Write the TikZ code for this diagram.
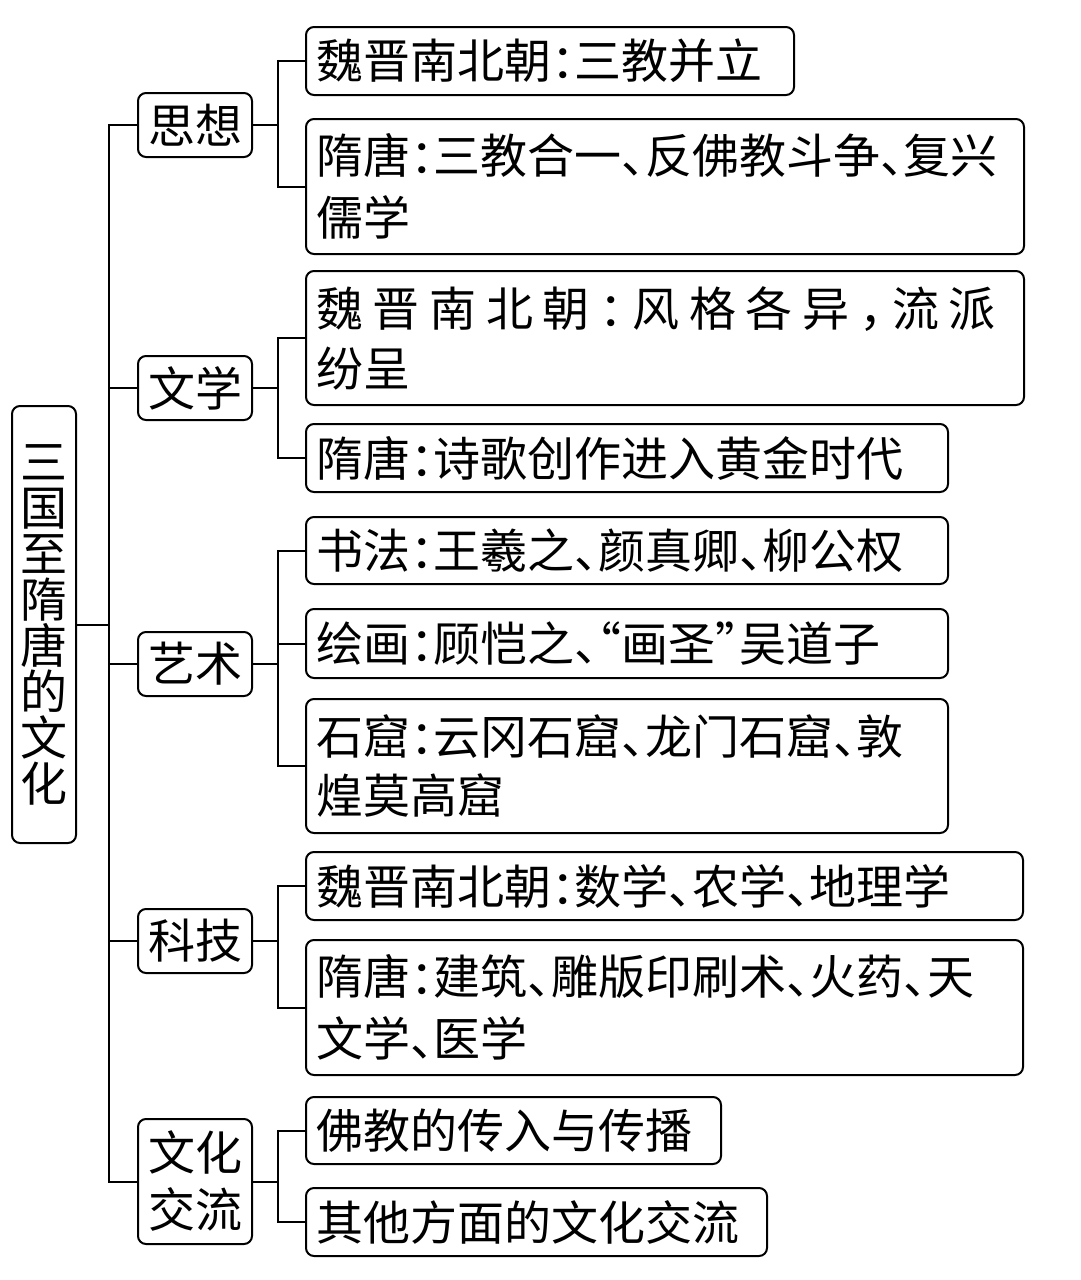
\documentclass[tikz,border=0pt]{standalone}
\usepackage{fontspec}
\setmainfont{Noto Sans CJK SC}[RawFeature=+halt]
\usepackage{tikz}

\begin{document}
\begin{tikzpicture}[x=1pt,y=-1pt,
    box/.style={draw,line width=2pt,rounded corners=8pt,inner xsep=10pt,inner ysep=0pt,
        font=\fontsize{47}{62}\selectfont},
    leaf/.style={box,anchor=north west,align=left},
    topic/.style={box,anchor=north west,align=center,minimum width=111pt,minimum height=64pt},
    link/.style={line width=2pt}]
        \useasboundingbox(0,0)rectangle(1080,1280);
        % 根节点
        \node[box,anchor=north west,align=center,minimum width=64pt,minimum height=437pt,
            inner xsep=0pt,font=\fontsize{47}{46}\selectfont](root)at(11,405)
            {三\\国\\至\\隋\\唐\\的\\文\\化};
        % 一级节点
        \node[topic](sx)at(137,92){思想};
        \node[topic](wx)at(137,355){文学};
        \node[topic](ys)at(137,631){艺术};
        \node[topic](kj)at(137,908){科技};
        \node[topic,minimum height=125pt,font=\fontsize{47}{57}\selectfont](jl)at(137,1118){文化\\交流};
        % 二级节点
        \node[leaf,text width=468pt,minimum height=68pt](sx1)at(305,26){魏晋南北朝：三教并立};
        \node[leaf,text width=698pt,minimum height=135pt](sx2)at(305,118){隋唐：三教合一、反佛教斗争、复兴\\儒学};
        \node[leaf,text width=698pt,minimum height=134pt,font=\fontsize{47}{60}\selectfont](wx1)at(305,270)
            {\makebox[680pt][l]{魏\hfill 晋\hfill 南\hfill 北\hfill 朝\hfill ：\hfill 风\hfill 格\hfill 各\hfill 异\hfill ，\hfill 流\hfill 派}\\纷呈};
        \node[leaf,text width=622pt,minimum height=68pt](wx2)at(305,423){隋唐：诗歌创作进入黄金时代};
        \node[leaf,text width=622pt,minimum height=67pt](ys1)at(305,516){书法：王羲之、颜真卿、柳公权};
        \node[leaf,text width=622pt,minimum height=69pt](ys2)at(305,608){绘画：顾恺之、“画圣”吴道子};
        \node[leaf,text width=622pt,minimum height=134pt,font=\fontsize{47}{59}\selectfont](ys3)at(305,698)
            {石窟：云冈石窟、龙门石窟、敦\\煌莫高窟};
        \node[leaf,text width=697pt,minimum height=68pt](kj1)at(305,851){魏晋南北朝：数学、农学、地理学};
        \node[leaf,text width=697pt,minimum height=135pt](kj2)at(305,939){隋唐：建筑、雕版印刷术、火药、天\\文学、医学};
        \node[leaf,text width=395pt,minimum height=67pt](jl1)at(305,1096){佛教的传入与传播};
        \node[leaf,text width=441pt,minimum height=68pt](jl2)at(305,1187){其他方面的文化交流};
        % 主干连线
        \draw[link](root.east)--++(32,0)coordinate(trunk);
        \draw[link](sx.west)-|(trunk)|-(jl.west);
        \foreach \n in {wx,ys,kj}
            \draw[link](trunk|-\n.west)--(\n.west);
        % 分支连线
        \foreach \n in {sx,wx,ys,kj,jl}
            \draw[link](\n.east)--++(25,0)coordinate(b\n);
        \draw[link](sx1.west)-|(bsx)|-(sx2.west);
        \draw[link](wx1.west)-|(bwx)|-(wx2.west);
        \draw[link](ys1.west)-|(bys)|-(ys3.west);
        \draw[link](bys|-ys2.west)--(ys2.west);
        \draw[link](kj1.west)-|(bkj)|-(kj2.west);
        \draw[link](jl1.west)-|(bjl)|-(jl2.west);
\end{tikzpicture}
\end{document}
